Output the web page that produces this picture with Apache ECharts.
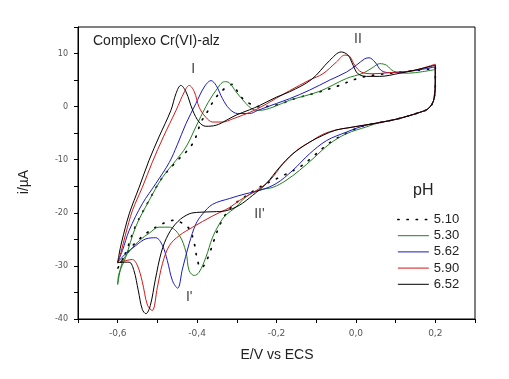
<!DOCTYPE html>
<html>
<head>
<meta charset="utf-8">
<script src="https://cdn.jsdelivr.net/npm/echarts@6/dist/echarts.min.js"></script>
<style>html,body{margin:0;padding:0;background:#fff;}#c{width:509px;height:379px;}</style>
</head>
<body>
<div id="c"></div>
<script>
// pH values (legend)
const phLabels = ['5.10', '5.30', '5.62', '5.90', '6.52'];

// Each curve: [E (V vs ECS), i (µA)] pairs, cathodic branch then anodic branch
const ph510 = [[0.2,7.4],[0.2,4.5],[0.198,2.0],[0.192,0.5],[0.18,-0.5],[0.16,-1.1],[0.13,-1.8],[0.1,-2.4],[0.06,-3.0],[0.02,-3.6],
  [-0.024,-5.0],[-0.066,-6.8],[-0.108,-9.4],[-0.138,-11.2],[-0.192,-13.3],[-0.218,-14.2],[-0.25,-15.5],[-0.28,-17.0],[-0.31,-18.6],
  [-0.33,-20.5],[-0.344,-22.5],[-0.357,-25.1],[-0.369,-27.7],[-0.38,-29.6],[-0.39,-30.4],[-0.399,-29.0],[-0.407,-25.8],[-0.42,-23.0],
  [-0.441,-21.8],[-0.458,-21.4],[-0.479,-21.8],[-0.496,-22.4],[-0.525,-23.7],[-0.56,-26.0],[-0.588,-28.8],[-0.6,-30.5],
  [-0.58,-27.5],[-0.555,-22.5],[-0.52,-17.5],[-0.487,-13.3],[-0.449,-10.1],[-0.437,-9.2],[-0.42,-7.9],[-0.407,-6.4],[-0.399,-4.8],
  [-0.39,-2.9],[-0.372,-0.7],[-0.355,1.5],[-0.331,3.4],[-0.31,4.2],[-0.298,2.8],[-0.285,1.5],[-0.268,0.6],[-0.245,0.0],[-0.2,0.3],
  [-0.154,1.5],[-0.091,2.8],[-0.049,3.8],[0.008,5.4],[0.05,6.0],[0.1,6.4],[0.2,7.2]];

const ph530 = [[0.2,7.0],[0.2,4.5],[0.198,2.0],[0.192,0.5],[0.18,-0.5],[0.16,-1.1],[0.13,-1.8],[0.1,-2.4],[0.06,-3.0],[0.027,-3.8],
  [-0.024,-5.1],[-0.066,-7.0],[-0.108,-9.8],[-0.142,-12.0],[-0.176,-13.9],[-0.209,-15.2],[-0.243,-15.7],[-0.277,-17.0],[-0.302,-18.9],
  [-0.33,-20.6],[-0.344,-22.1],[-0.361,-24.6],[-0.378,-28.4],[-0.395,-31.2],[-0.407,-31.8],[-0.42,-30.9],[-0.428,-27.4],[-0.445,-24.2],
  [-0.47,-22.7],[-0.496,-22.7],[-0.52,-23.8],[-0.545,-25.2],[-0.57,-27.2],[-0.588,-29.2],[-0.6,-33.5],
  [-0.597,-31.5],[-0.58,-28.4],[-0.555,-22.7],[-0.521,-17.7],[-0.487,-13.3],[-0.453,-10.1],[-0.428,-7.6],[-0.403,-3.8],[-0.378,0.0],
  [-0.352,3.1],[-0.331,4.7],[-0.319,4.5],[-0.302,2.8],[-0.277,0.6],[-0.26,-0.5],[-0.243,-0.7],[-0.209,-0.1],[-0.167,1.2],[-0.091,2.9],
  [-0.024,5.3],[0.018,6.3],[0.043,7.4],[0.06,8.1],[0.077,7.8],[0.094,6.7],[0.128,6.3],[0.2,7.0]];

const ph562 = [[0.2,7.5],[0.2,4.5],[0.198,2.0],[0.192,0.5],[0.18,-0.5],[0.16,-1.1],[0.13,-1.8],[0.1,-2.4],[0.06,-3.0],[0.02,-3.6],
  [-0.024,-4.8],[-0.074,-6.4],[-0.117,-8.9],[-0.159,-12.0],[-0.201,-14.5],[-0.243,-15.8],[-0.277,-16.4],[-0.318,-17.3],[-0.361,-18.4],
  [-0.386,-20.2],[-0.403,-22.1],[-0.42,-25.8],[-0.437,-30.6],[-0.449,-34.2],[-0.462,-32.8],[-0.475,-29.0],[-0.487,-26.2],[-0.504,-24.7],
  [-0.529,-24.9],[-0.555,-26.2],[-0.58,-27.7],[-0.6,-29.3],
  [-0.588,-27.1],[-0.571,-23.3],[-0.538,-18.3],[-0.504,-14.5],[-0.47,-10.5],[-0.45,-7.2],[-0.428,-3.2],[-0.403,0.6],[-0.382,3.7],
  [-0.365,4.9],[-0.352,4.0],[-0.336,1.5],[-0.319,-0.4],[-0.298,-1.3],[-0.268,-1.3],[-0.247,-0.7],[-0.2,0.6],[-0.167,1.5],[-0.117,3.1],
  [-0.066,5.0],[-0.024,6.5],[0.001,7.8],[0.022,9.0],[0.033,9.2],[0.048,8.4],[0.064,6.8],[0.085,6.4],[0.14,6.7],[0.2,7.5]];

const ph590 = [[0.2,8.0],[0.2,4.5],[0.198,2.0],[0.192,0.5],[0.18,-0.5],[0.16,-1.1],[0.13,-1.8],[0.1,-2.4],[0.06,-3.0],[0.02,-3.5],
  [-0.02,-4.0],[-0.05,-4.4],[-0.083,-5.2],[-0.112,-6.5],[-0.15,-8.3],[-0.184,-10.8],[-0.218,-14.0],[-0.251,-15.8],[-0.294,-17.7],
  [-0.318,-19.0],[-0.361,-20.6],[-0.411,-22.7],[-0.445,-24.3],[-0.47,-26.2],[-0.487,-29.5],[-0.5,-34.0],[-0.513,-38.4],[-0.525,-37.4],
  [-0.538,-33.0],[-0.55,-30.0],[-0.563,-28.8],[-0.58,-29.0],[-0.6,-29.4],
  [-0.592,-27.5],[-0.58,-24.0],[-0.563,-19.6],[-0.538,-15.2],[-0.513,-10.5],[-0.485,-5.7],[-0.453,-0.7],[-0.432,2.8],[-0.42,4.0],
  [-0.407,2.8],[-0.395,-0.1],[-0.378,-2.0],[-0.361,-2.9],[-0.336,-2.9],[-0.31,-2.3],[-0.285,-1.6],[-0.25,-0.5],[-0.2,1.6],[-0.167,3.0],
  [-0.117,5.0],[-0.083,6.2],[-0.049,8.4],[-0.028,9.7],[-0.016,9.5],[-0.003,7.8],[0.014,6.5],[0.043,6.2],[0.085,6.4],[0.144,6.8],[0.2,8.0]];

const ph652 = [[0.2,7.8],[0.2,4.5],[0.198,2.0],[0.192,0.5],[0.18,-0.5],[0.16,-1.1],[0.13,-1.8],[0.1,-2.4],[0.06,-3.0],[0.02,-3.5],
  [-0.02,-4.0],[-0.05,-4.4],[-0.083,-5.4],[-0.117,-6.7],[-0.159,-8.9],[-0.192,-11.4],[-0.226,-14.5],[-0.26,-16.7],[-0.294,-18.6],
  [-0.327,-19.6],[-0.36,-19.8],[-0.395,-19.9],[-0.42,-20.2],[-0.448,-21.6],[-0.472,-24.0],[-0.49,-27.4],[-0.505,-32.5],[-0.518,-37.5],
  [-0.529,-39.0],[-0.538,-38.2],[-0.548,-34.7],[-0.559,-30.9],[-0.571,-29.3],[-0.588,-29.3],[-0.6,-29.4],
  [-0.597,-28.0],[-0.59,-25.5],[-0.571,-20.2],[-0.546,-15.2],[-0.521,-10.1],[-0.496,-5.7],[-0.466,-0.7],[-0.453,2.5],[-0.441,4.0],
  [-0.428,2.8],[-0.411,-0.7],[-0.395,-2.9],[-0.378,-3.7],[-0.352,-3.5],[-0.327,-2.6],[-0.302,-1.6],[-0.268,-0.6],[-0.243,0.2],
  [-0.2,1.8],[-0.167,2.8],[-0.112,5.1],[-0.066,8.7],[-0.037,10.3],[-0.02,9.7],[-0.007,7.8],[0.005,6.2],[0.027,5.7],[0.06,5.7],
  [0.111,6.3],[0.15,6.9],[0.2,7.8]];

const curves = [ph510, ph530, ph562, ph590, ph652];
const colors = ['#000000', '#1f7f1f', '#1a1ac0', '#d01818', '#000000'];

// Peak annotations [E, i, text]
const peakLabels = [[-0.41, 7.0, 'I'], [0.005, 12.7, 'II'], [-0.243, -20.3, "II'"], [-0.42, -35.8, "I'"]];

const chart = echarts.init(document.getElementById('c'), null, {renderer: 'canvas'});
const lineStyles = curves.map((d, k) => k === 0
  ? {color: colors[k], width: 1.7, type: [1.2, 8], cap: 'round'}
  : {color: colors[k], width: 1});
const series = curves.map((d, k) => ({
  name: phLabels[k],
  type: 'line',
  data: d,
  smooth: 0.35,
  symbol: 'none',
  showSymbol: false,
  animation: false,
  lineStyle: lineStyles[k],
  itemStyle: {color: colors[k]},
  z: 2 + k
}));

chart.setOption({
  animation: false,
  grid: {left: 78, right: 34, top: 27, bottom: 60, show: true, borderColor: '#000', borderWidth: 1},
  xAxis: {
    type: 'value', min: -0.7, max: 0.3, interval: 0.1,
    axisLine: {onZero: false, lineStyle: {color: '#000', width: 1}},
    axisTick: {length: 4, lineStyle: {color: '#000'}},
    splitLine: {show: false},
    axisLabel: {
      margin: 10, fontSize: 9, color: '#555', fontFamily: 'DejaVu Sans',
      formatter: v => { const n = Math.round(v * 10); return (n % 2 === 0) ? (n / 10).toFixed(1).replace('.', ',') : ''; }
    }
  },
  yAxis: {
    type: 'value', min: -40, max: 15, interval: 5,
    axisLine: {onZero: false, lineStyle: {color: '#000', width: 1}},
    axisTick: {length: 4, lineStyle: {color: '#000'}},
    splitLine: {show: false},
    axisLabel: {
      margin: 10, fontSize: 8, color: '#555', fontFamily: 'DejaVu Sans',
      formatter: v => { const n = Math.round(v); return (n % 10 === 0) ? String(n) : ''; }
    }
  },
  legend: {
    orient: 'vertical', left: 392, top: 208,
    itemWidth: 31, itemHeight: 14, itemGap: 3.2,
    itemStyle: {opacity: 0},
    textStyle: {fontSize: 13, color: '#222', fontFamily: 'Liberation Sans'},
    data: phLabels.map((n, k) => ({name: n, lineStyle: {width: k === 0 ? 1.7 : 1}}))
  },
  series: series
});

const gfx = [
  {type: 'text', left: 93, top: 34, style: {text: 'Complexo Cr(VI)-alz', fontSize: 14, fontFamily: 'Liberation Sans', fill: '#222'}},
  {type: 'text', left: 413, top: 183, style: {text: 'pH', fontSize: 16, fontFamily: 'Liberation Sans', fill: '#222'}},
  {type: 'text', x: 277, y: 355, style: {text: 'E/V vs ECS', fontSize: 14, fontFamily: 'Liberation Sans', fill: '#222', align: 'center', verticalAlign: 'middle'}},
  {type: 'text', x: 24, y: 182, rotation: Math.PI / 2, style: {text: 'i/µA', fontSize: 14, fontFamily: 'Liberation Sans', fill: '#222', align: 'center', verticalAlign: 'middle'}}
];
peakLabels.forEach(p => {
  const pt = chart.convertToPixel({gridIndex: 0}, [p[0], p[1]]);
  gfx.push({type: 'text', x: pt[0], y: pt[1], style: {text: p[2], fontSize: 14, fontFamily: 'Liberation Sans', fill: '#444', align: 'center', verticalAlign: 'middle'}});
});
chart.setOption({graphic: gfx});
</script>
</body>
</html>
